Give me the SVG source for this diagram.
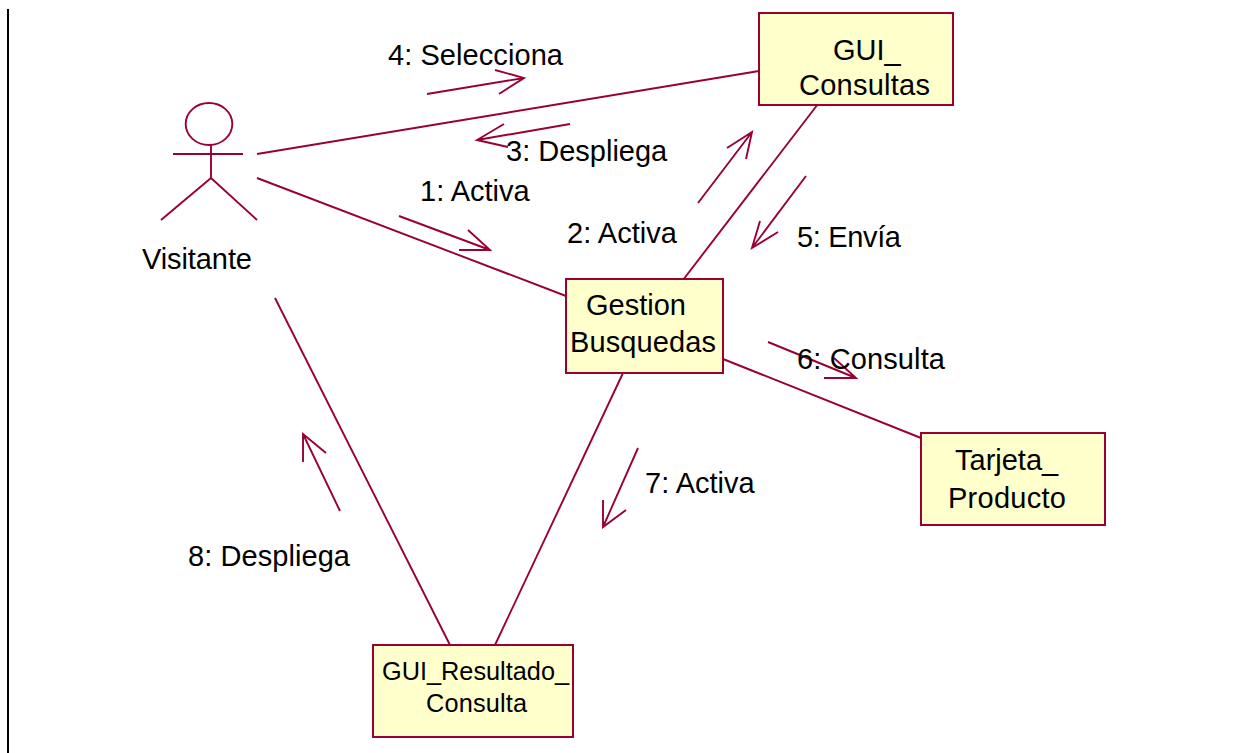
<svg xmlns="http://www.w3.org/2000/svg" width="1243" height="753" viewBox="0 0 1243 753">
<style>
.l{fill:none;stroke:#990033;stroke-width:1.9;stroke-linecap:butt;stroke-linejoin:miter}
.b{fill:#ffffcc;stroke:#990033;stroke-width:2}
text{font-family:"Liberation Sans",Arial,sans-serif;font-size:29px;fill:#000}
.s{font-size:25.300px}
</style>
<rect width="1243" height="753" fill="#fff"/>
<line x1="8" y1="9" x2="8" y2="753" stroke="#000" stroke-width="2"/>
<g id="connectors" class="l">
<path d="M257 154L759 71"/>
<path d="M257 178L566 296"/>
<path d="M818 104L683 280"/>
<path d="M723 359L921 438"/>
<path d="M623 373L495 645"/>
<path d="M275 298L450 645"/>
<path d="M427 94L524 78M495 70L524 78L499 94"/>
<path d="M570 124L477 140M504 124L477 140L508 147"/>
<path d="M399 216L490 250M468 230L490 250L459 250"/>
<path d="M698 203L752 132M727 148L752 132L746 159"/>
<path d="M806 176L752 248M760 221L752 248L778 232"/>
<path d="M768 342L856 378M834 358L856 378L824 378"/>
<path d="M638 448L603 527M603 500L603 527L626 510"/>
<path d="M340 511L303 434M303 462L303 434L326 453"/>
</g>
<g id="actor-visitante">
<g class="l"><ellipse cx="209" cy="124" rx="23.300" ry="21"/><path d="M211 145V178M173 154H243M211 178L161 220M211 178L257 220"/></g>
<text x="142" y="269" textLength="110">Visitante</text>
</g>
<g id="node-gui-consultas"><rect class="b" x="759" y="13" width="194" height="92"/><text x="833" y="60">GUI_</text><text x="799" y="95" textLength="131">Consultas</text></g>
<g id="node-gestion-busquedas"><rect class="b" x="566" y="279" width="157" height="94"/><text x="586" y="315">Gestion</text><text x="570" y="352" textLength="146">Busquedas</text></g>
<g id="node-tarjeta-producto"><rect class="b" x="921" y="433" width="184" height="92"/><text x="955" y="470">Tarjeta_</text><text x="948" y="508" textLength="118">Producto</text></g>
<g id="node-gui-resultado-consulta"><rect class="b" x="373" y="645" width="200" height="92"/><text class="s" x="382" y="680">GUI_Resultado_</text><text class="s" x="426" y="712" textLength="101">Consulta</text></g>
<g id="labels">
<text x="388" y="65" textLength="175">4: Selecciona</text>
<text x="506" y="161">3: Despliega</text>
<text x="420" y="201">1: Activa</text>
<text x="567" y="243" textLength="110">2: Activa</text>
<text x="797" y="247" textLength="104">5: Envía</text>
<text x="797" y="369" textLength="148">6: Consulta</text>
<text x="645" y="493">7: Activa</text>
<text x="188" y="566" textLength="162">8: Despliega</text>
</g>
</svg>
